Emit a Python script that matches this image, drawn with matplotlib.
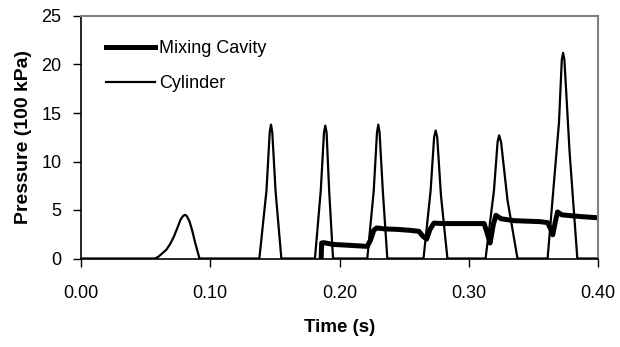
import numpy as np
import matplotlib
matplotlib.use("Agg")
import matplotlib.pyplot as plt

plt.rcParams['font.family'] = ['Liberation Sans', 'DejaVu Sans']

# cylinder pressure trace (s, 100 kPa)
cyl_t = [0.0, 0.0574, 0.060, 0.063, 0.066, 0.069, 0.072, 0.075, 0.077, 0.079, 0.0806,
         0.082, 0.084, 0.086, 0.088, 0.090, 0.0917,
         0.138, 0.1435, 0.146, 0.147, 0.148, 0.1505, 0.155,
         0.181, 0.1855, 0.188, 0.189, 0.190, 0.1920, 0.195,
         0.2215, 0.2265, 0.229, 0.230, 0.231, 0.2335, 0.237,
         0.265, 0.2705, 0.2732, 0.2744, 0.2756, 0.2785, 0.2835,
         0.313, 0.3195, 0.3223, 0.3235, 0.3250, 0.3300, 0.3377,
         0.361, 0.3698, 0.3720, 0.3730, 0.3740, 0.3780, 0.384,
         0.40]
cyl_p = [0, 0, 0.2, 0.55, 0.9, 1.5, 2.3, 3.3, 4.0, 4.4, 4.5,
         4.35, 3.8, 2.9, 1.8, 0.8, 0,
         0, 7.0, 13.0, 13.8, 13.0, 7.0, 0,
         0, 7.0, 13.0, 13.7, 13.0, 7.0, 0,
         0, 7.0, 13.0, 13.8, 13.0, 7.0, 0,
         0, 7.0, 12.5, 13.2, 12.5, 6.5, 0,
         0, 7.0, 12.0, 12.7, 12.0, 6.0, 0,
         0, 14.0, 20.5, 21.2, 20.5, 11.0, 0,
         0]

# mixing cavity pressure trace
cav_t = [0.1858, 0.1862, 0.188, 0.195, 0.205, 0.215, 0.2215, 0.224, 0.2265, 0.2287,
         0.235, 0.245, 0.255, 0.2615, 0.2645, 0.2674, 0.270, 0.2731, 0.28, 0.29,
         0.30, 0.3119, 0.3145, 0.3165, 0.319, 0.321, 0.325, 0.335, 0.345, 0.355,
         0.361, 0.3635, 0.365, 0.367, 0.3687, 0.372, 0.38, 0.389, 0.40]
cav_p = [0, 1.6, 1.63, 1.45, 1.38, 1.3, 1.25, 1.9, 2.9, 3.15,
         3.05, 3.0, 2.9, 2.8, 2.3, 2.0, 3.0, 3.65, 3.6, 3.6,
         3.6, 3.6, 2.5, 1.6, 3.5, 4.45, 4.1, 3.9, 3.85, 3.8,
         3.7, 3.0, 2.45, 3.8, 4.8, 4.5, 4.4, 4.3, 4.2]

fig = plt.figure(figsize=(6.2, 3.47), dpi=100)
ax = fig.add_axes([81/620, 88.5/347, 517/620, 242.5/347])

ax.plot(cav_t, cav_p, color='black', lw=3.6, label='Mixing Cavity', solid_joinstyle='round')
ax.plot(cyl_t, cyl_p, color='black', lw=1.6, label='Cylinder')

ax.set_xlim(0, 0.4)
ax.set_ylim(0, 25)
ax.set_xticks([0.0, 0.1, 0.2, 0.3, 0.4])
ax.set_xticklabels(['0.00', '0.10', '0.20', '0.30', '0.40'])
ax.set_yticks([0, 5, 10, 15, 20, 25])
ax.tick_params(axis='both', labelsize=13, length=6, width=1, direction='out', color='black')
ax.tick_params(axis='x', pad=13)
ax.tick_params(axis='y', pad=8)

for s in ['top', 'right']:
    ax.spines[s].set_color('#808080')
    ax.spines[s].set_linewidth(1.5)
for s in ['left', 'bottom']:
    ax.spines[s].set_color('black')
    ax.spines[s].set_linewidth(1.2)

ax.set_xlabel('Time (s)', fontsize=13.5, fontweight='bold', labelpad=12)
ax.set_ylabel('Pressure (100 kPa)', fontsize=14, fontweight='bold', labelpad=7)

ax.legend(loc='upper left', bbox_to_anchor=(0.035, 0.93), frameon=False, fontsize=13,
          handlelength=2.7, handletextpad=0.2, labelspacing=1.0, borderaxespad=0)

fig.savefig('out.png', dpi=100)
